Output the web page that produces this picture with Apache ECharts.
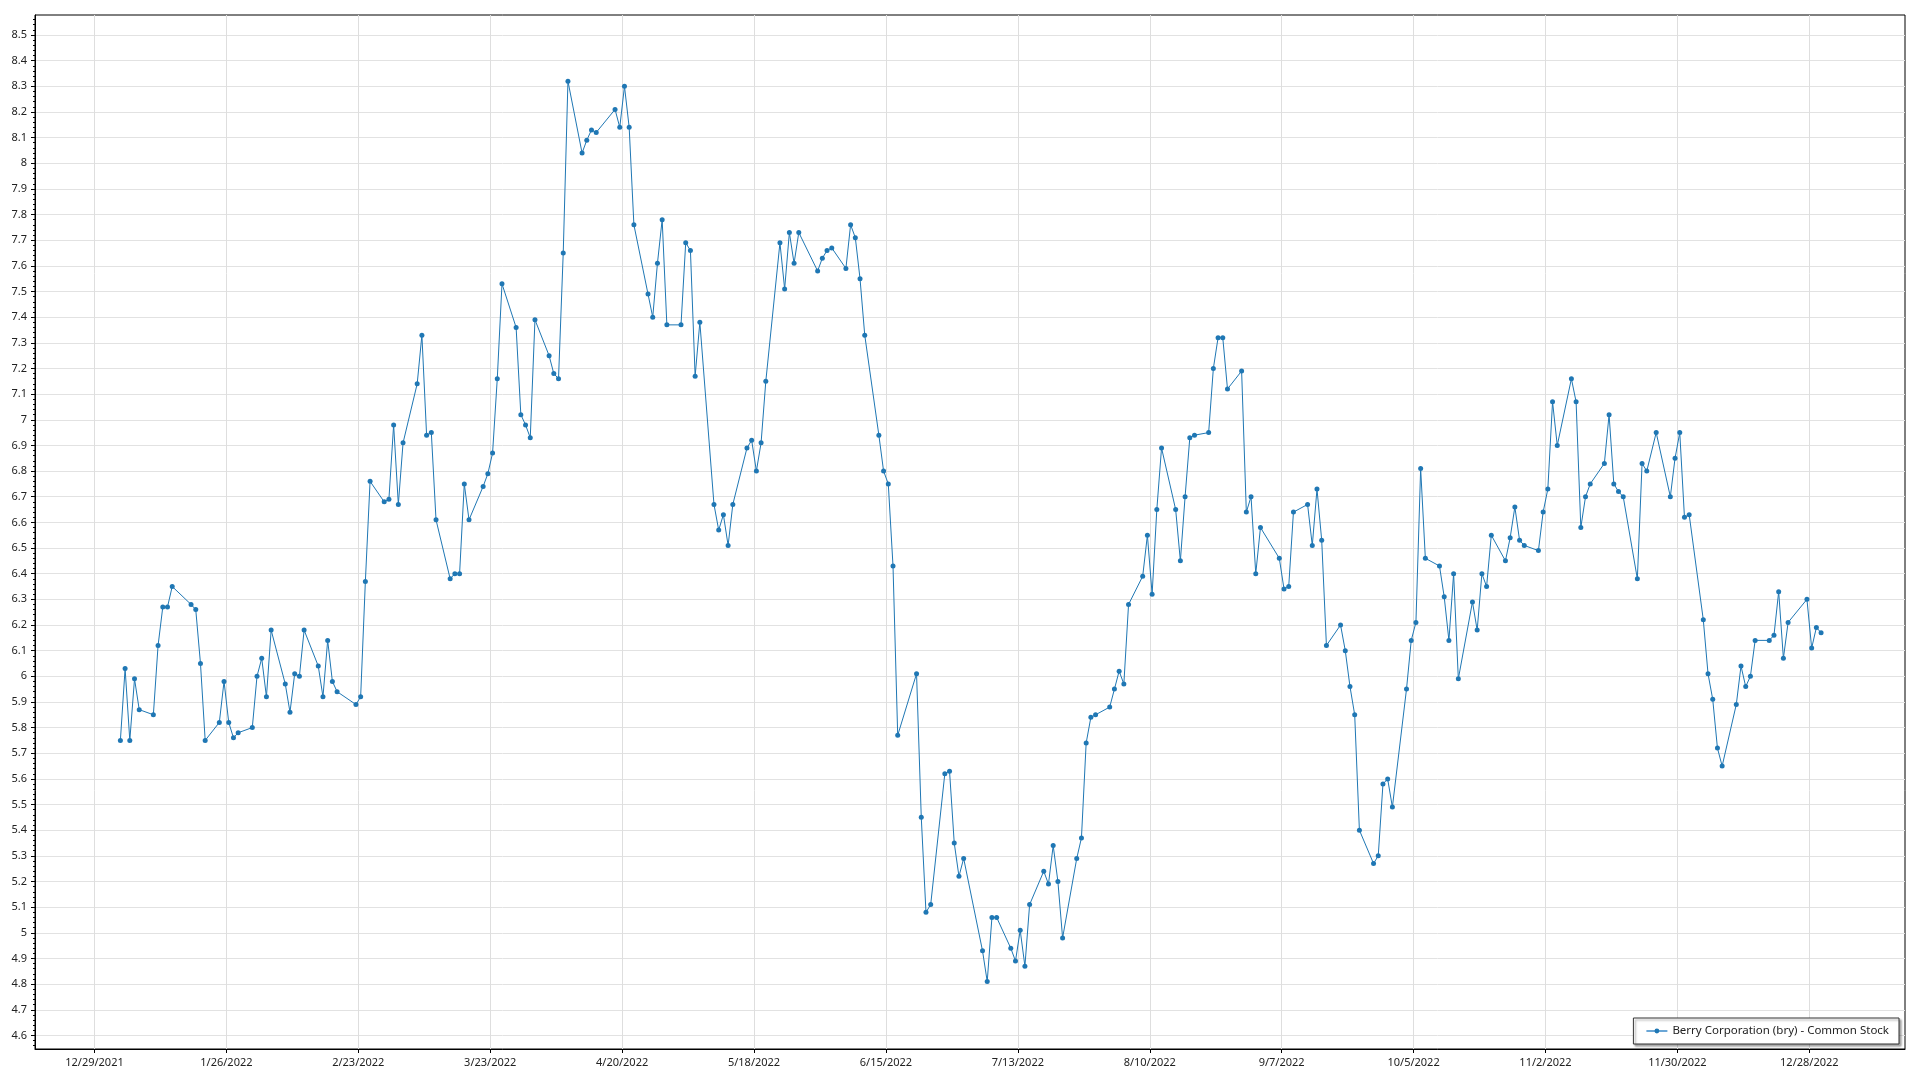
<!DOCTYPE html>
<html>
<head>
<meta charset="utf-8">
<script src="https://cdn.jsdelivr.net/npm/echarts@6/dist/echarts.min.js"></script>
<style>
html,body{margin:0;padding:0;background:#fff;}
#chart{width:1920px;height:1080px;}
</style>
</head>
<body>
<div id="chart"></div>
<script>
// ---- data ----
const seriesName = 'Berry Corporation (bry) - Common Stock';
const dates = [
'2022-01-03','2022-01-04','2022-01-05','2022-01-06','2022-01-07','2022-01-10','2022-01-11','2022-01-12','2022-01-13','2022-01-14',
'2022-01-18','2022-01-19','2022-01-20','2022-01-21','2022-01-24','2022-01-25','2022-01-26','2022-01-27','2022-01-28','2022-01-31',
'2022-02-01','2022-02-02','2022-02-03','2022-02-04','2022-02-07','2022-02-08','2022-02-09','2022-02-10','2022-02-11','2022-02-14',
'2022-02-15','2022-02-16','2022-02-17','2022-02-18','2022-02-22','2022-02-23','2022-02-24','2022-02-25','2022-02-28',
'2022-03-01','2022-03-02','2022-03-03','2022-03-04','2022-03-07','2022-03-08','2022-03-09','2022-03-10','2022-03-11','2022-03-14',
'2022-03-15','2022-03-16','2022-03-17','2022-03-18','2022-03-21','2022-03-22','2022-03-23','2022-03-24','2022-03-25','2022-03-28',
'2022-03-29','2022-03-30','2022-03-31',
'2022-04-01','2022-04-04','2022-04-05','2022-04-06','2022-04-07','2022-04-08','2022-04-11','2022-04-12','2022-04-13','2022-04-14',
'2022-04-18','2022-04-19','2022-04-20','2022-04-21','2022-04-22','2022-04-25','2022-04-26','2022-04-27','2022-04-28','2022-04-29',
'2022-05-02','2022-05-03','2022-05-04','2022-05-05','2022-05-06','2022-05-09','2022-05-10','2022-05-11','2022-05-12','2022-05-13',
'2022-05-16','2022-05-17','2022-05-18','2022-05-19','2022-05-20','2022-05-23','2022-05-24','2022-05-25','2022-05-26','2022-05-27',
'2022-05-31',
'2022-06-01','2022-06-02','2022-06-03','2022-06-06','2022-06-07','2022-06-08','2022-06-09','2022-06-10','2022-06-13','2022-06-14',
'2022-06-15','2022-06-16','2022-06-17','2022-06-21','2022-06-22','2022-06-23','2022-06-24','2022-06-27','2022-06-28','2022-06-29',
'2022-06-30',
'2022-07-01','2022-07-05','2022-07-06','2022-07-07','2022-07-08','2022-07-11','2022-07-12','2022-07-13','2022-07-14','2022-07-15',
'2022-07-18','2022-07-19','2022-07-20','2022-07-21','2022-07-22','2022-07-25','2022-07-26','2022-07-27','2022-07-28','2022-07-29',
'2022-08-01','2022-08-02','2022-08-03','2022-08-04','2022-08-05','2022-08-08','2022-08-09','2022-08-10','2022-08-11','2022-08-12',
'2022-08-15','2022-08-16','2022-08-17','2022-08-18','2022-08-19','2022-08-22','2022-08-23','2022-08-24','2022-08-25','2022-08-26',
'2022-08-29','2022-08-30','2022-08-31',
'2022-09-01','2022-09-02','2022-09-06','2022-09-07','2022-09-08','2022-09-09','2022-09-12','2022-09-13','2022-09-14','2022-09-15',
'2022-09-16','2022-09-19','2022-09-20','2022-09-21','2022-09-22','2022-09-23','2022-09-26','2022-09-27','2022-09-28','2022-09-29',
'2022-09-30',
'2022-10-03','2022-10-04','2022-10-05','2022-10-06','2022-10-07','2022-10-10','2022-10-11','2022-10-12','2022-10-13','2022-10-14',
'2022-10-17','2022-10-18','2022-10-19','2022-10-20','2022-10-21','2022-10-24','2022-10-25','2022-10-26','2022-10-27','2022-10-28',
'2022-10-31',
'2022-11-01','2022-11-02','2022-11-03','2022-11-04','2022-11-07','2022-11-08','2022-11-09','2022-11-10','2022-11-11','2022-11-14',
'2022-11-15','2022-11-16','2022-11-17','2022-11-18','2022-11-21','2022-11-22','2022-11-23','2022-11-25','2022-11-28','2022-11-29',
'2022-11-30',
'2022-12-01','2022-12-02','2022-12-05','2022-12-06','2022-12-07','2022-12-08','2022-12-09','2022-12-12','2022-12-13','2022-12-14',
'2022-12-15','2022-12-16','2022-12-19','2022-12-20','2022-12-21','2022-12-22','2022-12-23','2022-12-27','2022-12-28','2022-12-29',
'2022-12-30'
];
const prices = [
5.75,6.03,5.75,5.99,5.87,5.85,6.12,6.27,6.27,6.35,
6.28,6.26,6.05,5.75,5.82,5.98,5.82,5.76,5.78,5.80,
6.00,6.07,5.92,6.18,5.97,5.86,6.01,6.00,6.18,6.04,
5.92,6.14,5.98,5.94,5.89,5.92,6.37,6.76,6.68,
6.69,6.98,6.67,6.91,7.14,7.33,6.94,6.95,6.61,6.38,
6.40,6.40,6.75,6.61,6.74,6.79,6.87,7.16,7.53,7.36,
7.02,6.98,6.93,
7.39,7.25,7.18,7.16,7.65,8.32,8.04,8.09,8.13,8.12,
8.21,8.14,8.30,8.14,7.76,7.49,7.40,7.61,7.78,7.37,
7.37,7.69,7.66,7.17,7.38,6.67,6.57,6.63,6.51,6.67,
6.89,6.92,6.80,6.91,7.15,7.69,7.51,7.73,7.61,7.73,
7.58,
7.63,7.66,7.67,7.59,7.76,7.71,7.55,7.33,6.94,6.80,
6.75,6.43,5.77,6.01,5.45,5.08,5.11,5.62,5.63,5.35,
5.22,
5.29,4.93,4.81,5.06,5.06,4.94,4.89,5.01,4.87,5.11,
5.24,5.19,5.34,5.20,4.98,5.29,5.37,5.74,5.84,5.85,
5.88,5.95,6.02,5.97,6.28,6.39,6.55,6.32,6.65,6.89,
6.65,6.45,6.70,6.93,6.94,6.95,7.20,7.32,7.32,7.12,
7.19,6.64,6.70,
6.40,6.58,6.46,6.34,6.35,6.64,6.67,6.51,6.73,6.53,
6.12,6.20,6.10,5.96,5.85,5.40,5.27,5.30,5.58,5.60,
5.49,
5.95,6.14,6.21,6.81,6.46,6.43,6.31,6.14,6.40,5.99,
6.29,6.18,6.40,6.35,6.55,6.45,6.54,6.66,6.53,6.51,
6.49,
6.64,6.73,7.07,6.90,7.16,7.07,6.58,6.70,6.75,6.83,
7.02,6.75,6.72,6.70,6.38,6.83,6.80,6.95,6.70,6.85,
6.95,
6.62,6.63,6.22,6.01,5.91,5.72,5.65,5.89,6.04,5.96,
6.00,6.14,6.14,6.16,6.33,6.07,6.21,6.30,6.11,6.19,
6.17
];
const xTickDates = ['2021-12-29','2022-01-26','2022-02-23','2022-03-23','2022-04-20','2022-05-18','2022-06-15',
  '2022-07-13','2022-08-10','2022-09-07','2022-10-05','2022-11-02','2022-11-30','2022-12-28'];
const yTicks = [4.6,4.7,4.8,4.9,5,5.1,5.2,5.3,5.4,5.5,5.6,5.7,5.8,5.9,6,6.1,6.2,6.3,6.4,6.5,6.6,6.7,6.8,6.9,
  7,7.1,7.2,7.3,7.4,7.5,7.6,7.7,7.8,7.9,8,8.1,8.2,8.3,8.4,8.5];
const xRange = ['2021-12-16T09:00:00Z','2023-01-17T07:30:00Z'];
const yRange = [4.547, 8.578];

// ---- build ----
const HALF_DAY = 12 * 3600 * 1000;
function ts(s){ return Date.parse(s + 'T00:00:00Z'); }
const seriesData = dates.map((d, i) => [ts(d) + HALF_DAY, prices[i]]);
const xTicks = xTickDates.map(ts);
const yMinor = [];
for (let i = Math.ceil(yRange[0] * 50); i <= Math.floor(yRange[1] * 50); i++) yMinor.push(i / 50);

function fmtDate(v){
  const d = new Date(v);
  return (d.getUTCMonth() + 1) + '/' + d.getUTCDate() + '/' + d.getUTCFullYear();
}

const FONT = 'Noto Sans';
const chart = echarts.init(document.getElementById('chart'), null, {renderer: 'canvas'});
chart.setOption({
  animation: false,
  backgroundColor: '#fff',
  grid: {
    left: 35, right: 15, top: 15, bottom: 31,
    show: true, borderColor: '#000', borderWidth: 1,
    containLabel: false
  },
  legend: {
    data: [seriesName],
    right: 21, bottom: 36,
    backgroundColor: '#fff',
    borderColor: '#333', borderWidth: 1,
    shadowColor: 'rgba(0,0,0,0.35)', shadowBlur: 2, shadowOffsetX: 2, shadowOffsetY: 2,
    padding: [7, 10, 7, 12],
    itemWidth: 21, itemHeight: 6,
    textStyle: {fontFamily: FONT, fontSize: 11.5, color: '#222'},
    lineStyle: {width: 2, color: '#6aa6d6'}
  },
  xAxis: {
    type: 'value',
    min: Date.parse(xRange[0]), max: Date.parse(xRange[1]),
    axisLine: {show: true, lineStyle: {color: '#000', width: 1}},
    axisTick: {show: true, length: 4, lineStyle: {color: '#000'}, customValues: xTicks},
    axisLabel: {customValues: xTicks, formatter: fmtDate, margin: 8,
      fontFamily: FONT, fontSize: 11, color: '#222'},
    splitLine: {show: true, lineStyle: {color: '#dedede', width: 1}}
  },
  yAxis: [{
    type: 'value',
    min: yRange[0], max: yRange[1],
    axisLine: {show: true, lineStyle: {color: '#000', width: 1}},
    axisTick: {show: true, length: 4, lineStyle: {color: '#000'}, customValues: yTicks},
    axisLabel: {customValues: yTicks, margin: 8, fontFamily: FONT, fontSize: 11, color: '#222'},
    splitLine: {show: true, lineStyle: {color: '#e2e2e2', width: 1}}
  }, {
    type: 'value',
    position: 'left',
    min: yRange[0], max: yRange[1],
    axisLine: {show: false},
    axisTick: {show: true, length: 2, lineStyle: {color: '#000'}, customValues: yMinor},
    axisLabel: {show: false},
    splitLine: {show: false}
  }],
  series: [{
    name: seriesName,
    type: 'line',
    data: seriesData,
    symbol: 'circle',
    symbolSize: 5,
    showAllSymbol: true,
    lineStyle: {color: '#1f77b4', width: 1},
    itemStyle: {color: '#1f77b4'}
  }]
});
</script>
</body>
</html>
